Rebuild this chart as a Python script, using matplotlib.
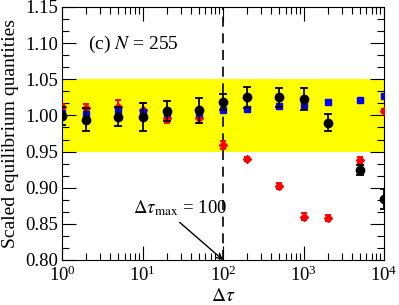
import matplotlib
matplotlib.use("Agg")
import matplotlib.pyplot as plt
from matplotlib.ticker import LogLocator, AutoMinorLocator, MultipleLocator, NullFormatter, FormatStrFormatter

plt.rcParams['font.family'] = ['Liberation Serif', 'DejaVu Serif']
plt.rcParams['mathtext.fontset'] = 'stix'

dtau = [1, 2, 5, 10, 20, 50, 100, 200, 500, 1000, 2000, 5000, 10000]

black_y = [0.999, 0.994, 0.998, 0.998, 1.006, 1.007, 1.019, 1.025, 1.025, 1.023, 0.990, 0.924, 0.884]
black_err = [0.012, 0.016, 0.013, 0.019, 0.014, 0.017, 0.011, 0.015, 0.013, 0.015, 0.012, 0.007, 0.014]

red_y = [1.011, 1.010, 1.012, 1.008, 0.996, 0.996, 0.959, 0.940, 0.902, 0.860, 0.858, 0.938, 1.006]
red_err = [0.005, 0.006, 0.009, 0.009, 0.006, 0.007, 0.005, 0.003, 0.004, 0.005, 0.004, 0.004, 0.003]

blue_y = [1.004, 1.002, 1.007, 1.005, 1.003, 1.004, 1.008, 1.009, 1.013, 1.015, 1.018, 1.022, 1.027]

band_lo, band_hi = 0.95, 1.05
dtau_max = 100

fig = plt.figure(figsize=(3.99, 3.05), dpi=100)
ax = fig.add_axes([62/399, 45/305, 322/399, 253/305])

ax.axhspan(band_lo, band_hi, color='#ffff00', zorder=0, lw=0)
ax.axvline(dtau_max, color='black', ls=(0, (6, 4)), lw=1.2, zorder=1)

ax.errorbar(dtau, red_y, yerr=red_err, fmt='D', color='#ff0000', ms=3.6,
            capsize=2.5, elinewidth=1.4, capthick=1.4, zorder=3)
ax.plot(dtau, blue_y, 's', color='#0000ff', ms=4.2, ls='none', zorder=4)
ax.errorbar(dtau, black_y, yerr=black_err, fmt='o', color='black', ms=6,
            capsize=2.6, elinewidth=1.3, capthick=1.3, zorder=5)

ax.set_xscale('log')
ax.set_xlim(1, 1e4)
ax.set_ylim(0.80, 1.15)

ax.xaxis.set_major_locator(LogLocator(base=10, numticks=10))
ax.xaxis.set_minor_locator(LogLocator(base=10, subs=range(2, 10), numticks=20))
ax.xaxis.set_minor_formatter(NullFormatter())
ax.yaxis.set_major_locator(MultipleLocator(0.05))
ax.yaxis.set_minor_locator(AutoMinorLocator(3))
ax.yaxis.set_major_formatter(FormatStrFormatter('%.2f'))

ax.tick_params(which='both', direction='in', top=True, right=True, width=0.8)
ax.tick_params(which='major', length=10, labelsize=13.5, pad=3)
ax.tick_params(axis='x', which='major', pad=4)
ax.tick_params(which='minor', length=5)
for s in ax.spines.values():
    s.set_linewidth(0.8)

ax.set_xlabel(r'$\Delta\tau$', fontsize=14)
ax.set_ylabel('Scaled equilibrium quantities', fontsize=14)
ax.xaxis.set_label_coords(0.5, -0.112)
ax.yaxis.set_label_coords(-0.135, 0.5)

ax.text(0.081, 0.854, r'(c) $N$ = 255', transform=ax.transAxes, fontsize=14,
        ha='left', va='center')

ax.text(7.6, 0.864, r'$\Delta\tau_{\rm max}$ = 100', fontsize=13.5, ha='left', va='baseline',
        zorder=6)
ax.annotate('', xy=(dtau_max, 0.80), xytext=(29, 0.852),
            arrowprops=dict(arrowstyle='->', color='black', lw=1.0, shrinkA=0, shrinkB=0,
                            mutation_scale=10),
            zorder=6)

fig.savefig('out.png', dpi=100)
